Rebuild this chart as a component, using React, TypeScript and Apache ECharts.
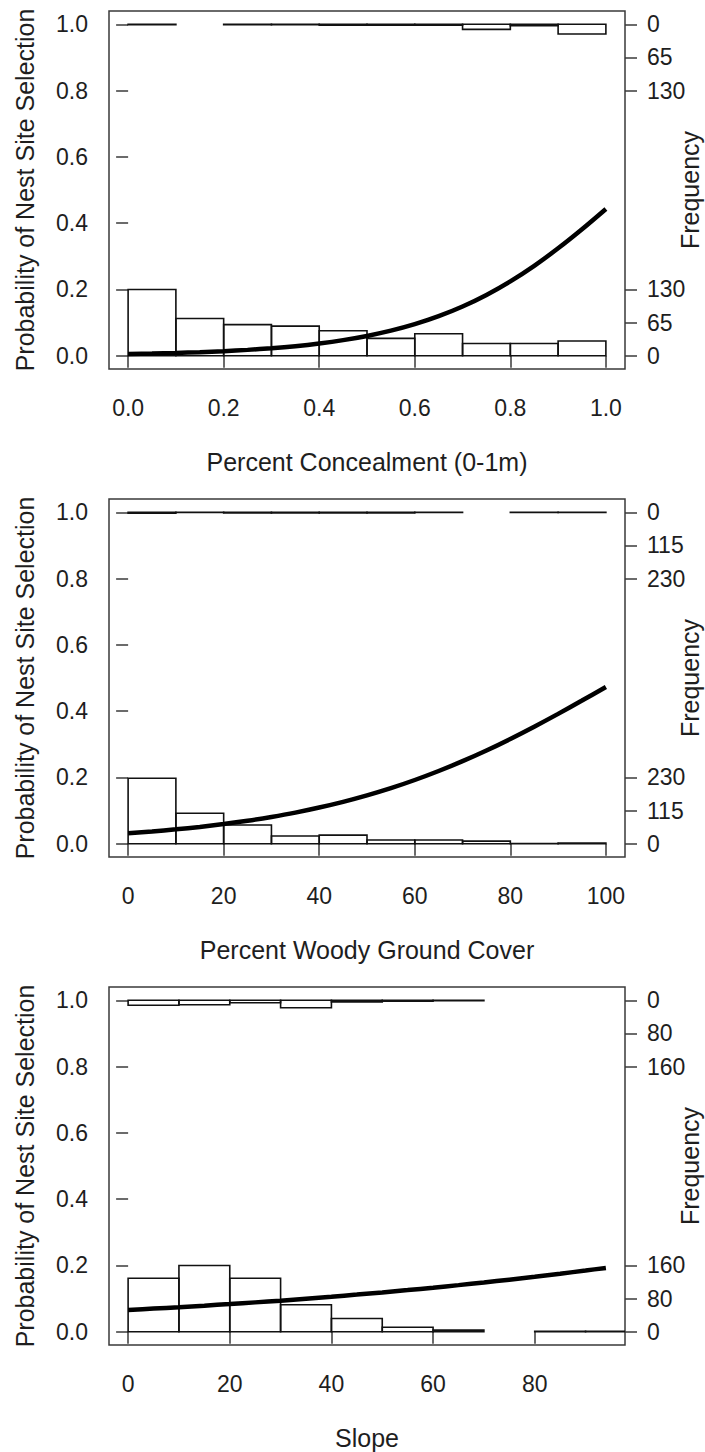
import React, { useEffect, useRef } from "react";
import * as echarts from "echarts";

// ---- shared ticks ----
const probTicks = [0, 0.2, 0.4, 0.6, 0.8, 1.0];

// ---- Panel 1: Percent Concealment (0-1m) ----
const concealEdges = [0, 0.1, 0.2, 0.3, 0.4, 0.5, 0.6, 0.7, 0.8, 0.9, 1.0];
const concealAbsent = [130, 73, 61, 58, 49, 34, 43, 24, 24, 29];
const concealPresent = [1, 0, 1, 1, 2, 2, 2, 10, 3, 19];
const concealCurveX = [0, 0.05, 0.1, 0.15, 0.2, 0.25, 0.3, 0.35, 0.4, 0.45, 0.5, 0.55, 0.6, 0.65, 0.7, 0.75, 0.8, 0.85, 0.9, 0.95, 1.0];
const concealCurveY = [0.005, 0.0065, 0.0084, 0.0107, 0.0138, 0.0177, 0.0226, 0.0289, 0.037, 0.0471, 0.0598, 0.0756, 0.0953, 0.1194, 0.1486, 0.1835, 0.2244, 0.2713, 0.3241, 0.3816, 0.4428];
const concealFreqTicks = [0, 65, 130];
const concealXTicks = [0, 0.2, 0.4, 0.6, 0.8, 1.0];

// ---- Panel 2: Percent Woody Ground Cover ----
const woodyEdges = [0, 10, 20, 30, 40, 50, 60, 70, 80, 90, 100];
const woodyAbsent = [227, 106, 65, 27, 30, 13, 13, 9, 1, 2];
const woodyPresent = [3, 1, 2, 2, 2, 2, 1, 0, 1, 1];
const woodyCurveX = [0, 5, 10, 15, 20, 25, 30, 35, 40, 45, 50, 55, 60, 65, 70, 75, 80, 85, 90, 95, 100];
const woodyCurveY = [0.0315, 0.037, 0.0434, 0.0508, 0.0594, 0.0693, 0.0808, 0.0939, 0.1092, 0.1264, 0.1459, 0.1677, 0.1923, 0.2194, 0.2491, 0.2813, 0.3161, 0.353, 0.3917, 0.4319, 0.473];
const woodyFreqTicks = [0, 115, 230];
const woodyXTicks = [0, 20, 40, 60, 80, 100];

// ---- Panel 3: Slope ----
const slopeEdges = [0, 10, 20, 30, 40, 50, 60, 70, 80, 90, 100];
const slopeAbsent = [129, 160, 129, 65, 32, 11, 4, 0, 1, 1];
const slopePresent = [12, 11, 6, 18, 4, 2, 1, 0, 0, 0];
const slopeCurveX = [0, 5, 10, 15, 20, 25, 30, 35, 40, 45, 50, 55, 60, 65, 70, 75, 80, 85, 90, 94];
const slopeCurveY = [0.0656, 0.0698, 0.0741, 0.0787, 0.0835, 0.0886, 0.0938, 0.0997, 0.1057, 0.112, 0.1186, 0.1256, 0.1329, 0.1406, 0.1486, 0.1571, 0.1659, 0.1751, 0.1847, 0.1926];
const slopeFreqTicks = [0, 80, 160];
const slopeXTicks = [0, 20, 40, 60, 80];

const FONT = '"Liberation Sans", Arial, Helvetica, sans-serif';
const TXT = "#1e1e1e";
const AX = "#3a3a3a";

type Panel = {
  name: string;
  edges: number[];
  absent: number[];
  present: number[];
  cx: number[];
  cy: number[];
  freqTicks: number[];
  xTicks: number[];
  xMin: number;
  xMax: number;
  decimals: number;
  top: number;
};

const panels: Panel[] = [
  { name: "Percent Concealment (0-1m)", edges: concealEdges, absent: concealAbsent, present: concealPresent, cx: concealCurveX, cy: concealCurveY, freqTicks: concealFreqTicks, xTicks: concealXTicks, xMin: -0.04, xMax: 1.04, decimals: 1, top: 11 },
  { name: "Percent Woody Ground Cover", edges: woodyEdges, absent: woodyAbsent, present: woodyPresent, cx: woodyCurveX, cy: woodyCurveY, freqTicks: woodyFreqTicks, xTicks: woodyXTicks, xMin: -4, xMax: 104, decimals: 0, top: 499 },
  { name: "Slope", edges: slopeEdges, absent: slopeAbsent, present: slopePresent, cx: slopeCurveX, cy: slopeCurveY, freqTicks: slopeFreqTicks, xTicks: slopeXTicks, xMin: -3.76, xMax: 97.76, decimals: 0, top: 987 },
];

const labelStyle = { fontFamily: FONT, fontSize: 23, color: TXT };
const nameStyle = { fontFamily: FONT, fontSize: 25, color: TXT };
const tickStyle = { color: AX, width: 1.5 };

function buildOption() {
  const grid: any[] = [];
  const xAxis: any[] = [];
  const yAxis: any[] = [];
  const series: any[] = [];

  panels.forEach((p, i) => {
    const maxF = p.freqTicks[p.freqTicks.length - 1];
    const scale = 0.2 / maxF;
    grid.push({
      left: 109, top: p.top, width: 516, height: 358,
      show: true, borderColor: AX, borderWidth: 1.5, backgroundColor: "transparent",
      containLabel: false, outerBoundsMode: "none",
    });

    xAxis.push({
      gridIndex: i, type: "value", min: p.xMin, max: p.xMax,
      axisLine: { show: false }, splitLine: { show: false },
      axisTick: { show: true, customValues: p.xTicks, length: 12, lineStyle: tickStyle },
      axisLabel: { customValues: p.xTicks, formatter: (v: number) => v.toFixed(p.decimals), margin: 27, ...labelStyle },
      name: p.name, nameLocation: "middle", nameGap: 80, nameMoveOverlap: false, nameTextStyle: nameStyle,
    });

    yAxis.push({
      gridIndex: i, type: "value", position: "left", min: -0.04, max: 1.04,
      axisLine: { show: false }, splitLine: { show: false },
      axisTick: { show: true, customValues: probTicks, length: 12, lineStyle: tickStyle },
      axisLabel: { customValues: probTicks, formatter: (v: number) => v.toFixed(1), margin: 21, ...labelStyle },
      name: "Probability of Nest Site Selection", nameLocation: "middle", nameGap: 72, nameRotate: 90,
      nameMoveOverlap: false, nameTextStyle: nameStyle,
    });

    const rPos: number[] = [];
    const rLab: number[] = [];
    p.freqTicks.forEach((c) => { rPos.push(c * scale); rLab.push(c); });
    p.freqTicks.forEach((c) => { rPos.push(1 - c * scale); rLab.push(c); });
    yAxis.push({
      gridIndex: i, type: "value", position: "right", min: -0.04, max: 1.04,
      axisLine: { show: false }, splitLine: { show: false },
      axisTick: { show: true, customValues: rPos, length: 12, lineStyle: tickStyle },
      axisLabel: {
        customValues: rPos, margin: 22, ...labelStyle,
        formatter: (v: number) => {
          let best = 0;
          rPos.forEach((q, k) => { if (Math.abs(q - v) < Math.abs(rPos[best] - v)) best = k; });
          return String(rLab[best]);
        },
      },
      name: "Frequency", nameLocation: "middle", nameGap: 52, nameRotate: 90,
      nameMoveOverlap: false, nameTextStyle: nameStyle,
    });

    const absentData: number[][] = [];
    const presentData: number[][] = [];
    for (let k = 0; k < p.edges.length - 1; k++) {
      if (p.absent[k] > 0) absentData.push([p.edges[k], p.edges[k + 1], p.absent[k]]);
      if (p.present[k] > 0) presentData.push([p.edges[k], p.edges[k + 1], p.present[k]]);
    }

    series.push({
      type: "custom", xAxisIndex: i, yAxisIndex: 2 * i, clip: true,
      encode: { x: [0, 1], y: 2 }, data: absentData,
      renderItem: (_params: any, api: any) => {
        const a = api.coord([api.value(0), 0]);
        const b = api.coord([api.value(1), api.value(2) * scale]);
        return { type: "rect", shape: { x: a[0], y: b[1], width: b[0] - a[0], height: a[1] - b[1] }, style: { fill: "none", stroke: "#111", lineWidth: 1.6 } };
      },
    });
    series.push({
      type: "custom", xAxisIndex: i, yAxisIndex: 2 * i, clip: true,
      encode: { x: [0, 1], y: 2 }, data: presentData,
      renderItem: (_params: any, api: any) => {
        const a = api.coord([api.value(0), 1]);
        const b = api.coord([api.value(1), 1 - api.value(2) * scale]);
        return { type: "rect", shape: { x: a[0], y: a[1], width: b[0] - a[0], height: b[1] - a[1] }, style: { fill: "none", stroke: "#111", lineWidth: 1.6 } };
      },
    });
    series.push({
      type: "line", xAxisIndex: i, yAxisIndex: 2 * i, z: 5,
      data: p.cx.map((x, j) => [x, p.cy[j]]),
      showSymbol: false, symbol: "none", smooth: 0.3,
      lineStyle: { color: "#000", width: 4.5 },
    });
  });

  return { animation: false, backgroundColor: "#fff", grid, xAxis, yAxis, series };
}

export default function App() {
  const ref = useRef<HTMLDivElement>(null);
  useEffect(() => {
    const chart = echarts.init(ref.current!, null, { renderer: "svg" });
    chart.setOption(buildOption() as any);
    return () => chart.dispose();
  }, []);
  return (
    <div
      ref={ref}
      style={{ position: "absolute", left: 0, top: 0, width: 705, height: 1452, background: "#fff" }}
    />
  );
}
